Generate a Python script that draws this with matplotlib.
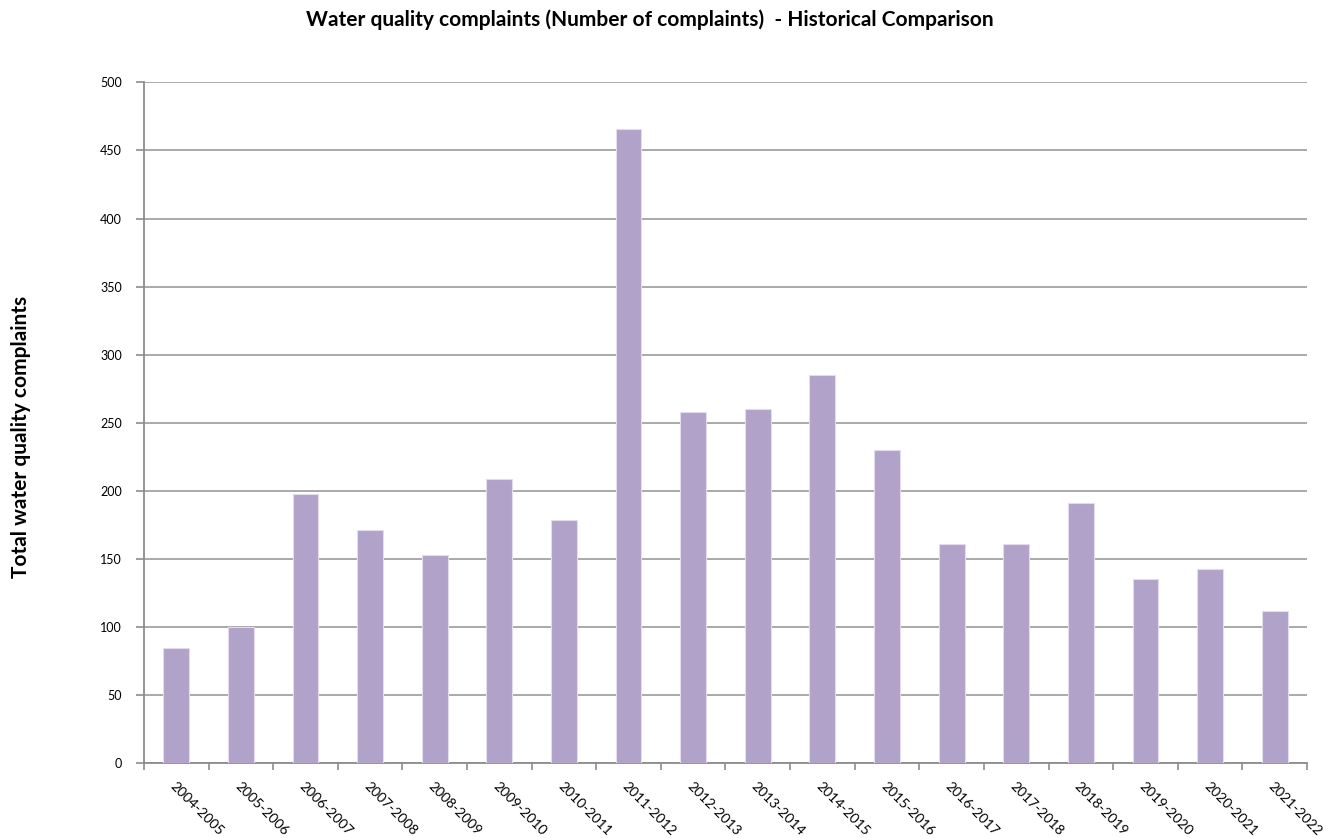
"""
Bar chart of yearly water quality complaints.
"""
import matplotlib
matplotlib.use("Agg")
import matplotlib.pyplot as plt
import numpy as np

plt.rcParams["font.family"] = ["Lato", "DejaVu Sans"]

# Financial years and complaint counts
years = [
    "2004-2005", "2005-2006", "2006-2007", "2007-2008", "2008-2009",
    "2009-2010", "2010-2011", "2011-2012", "2012-2013", "2013-2014",
    "2014-2015", "2015-2016", "2016-2017", "2017-2018", "2018-2019",
    "2019-2020", "2020-2021", "2021-2022",
]
complaints = [85, 100, 198, 171, 153, 209, 179, 466, 258, 260,
              285, 230, 161, 161, 191, 135, 143, 112]

yticks = [0, 50, 100, 150, 200, 250, 300, 350, 400, 450, 500]

bar_color = "#b1a2c9"
grid_color = "#a3a3a3"
axis_color = "#8c8c8c"

fig = plt.figure(figsize=(13.28, 8.38), dpi=100)
ax = fig.add_axes((0.1084, 0.0891, 0.8758, 0.8127))

x = np.arange(len(years))
ax.bar(x, complaints, width=0.4, color=bar_color,
       edgecolor="#e4dced", linewidth=0.8, zorder=3)

ax.set_xlim(-0.5, len(years) - 0.5)
ax.set_ylim(0, 500)
ax.set_yticks(yticks)
ax.set_yticklabels([str(t) for t in yticks], fontsize=9)

# category boundaries carry the tick marks, labels sit at the centres
ax.set_xticks(np.arange(len(years) + 1) - 0.5)
ax.set_xticklabels([])
ax.set_xticks(x, minor=True)
ax.set_xticklabels(years, minor=True, rotation=-45, ha="left", va="top",
                   rotation_mode="anchor", fontsize=10)
ax.tick_params(axis="x", which="minor", length=0, pad=12)
ax.tick_params(axis="x", which="major", length=5, color=axis_color, width=1.2)
ax.tick_params(axis="y", length=6, color=axis_color, width=1.2, pad=10)

ax.yaxis.grid(True, color=grid_color, linewidth=1.3, zorder=0)
ax.set_axisbelow(True)

for side in ("top", "right"):
    ax.spines[side].set_visible(False)
for side in ("left", "bottom"):
    ax.spines[side].set_color(axis_color)
    ax.spines[side].set_linewidth(1.3)

fig.text(0.489, 0.976, "Water quality complaints (Number of complaints)  - Historical Comparison",
         ha="center", va="center", fontsize=15, fontweight="bold")
fig.text(0.016, 0.478, "Total water quality complaints", rotation=90,
         ha="center", va="center", fontsize=15, fontweight="bold")

fig.savefig("out.png", dpi=100)
